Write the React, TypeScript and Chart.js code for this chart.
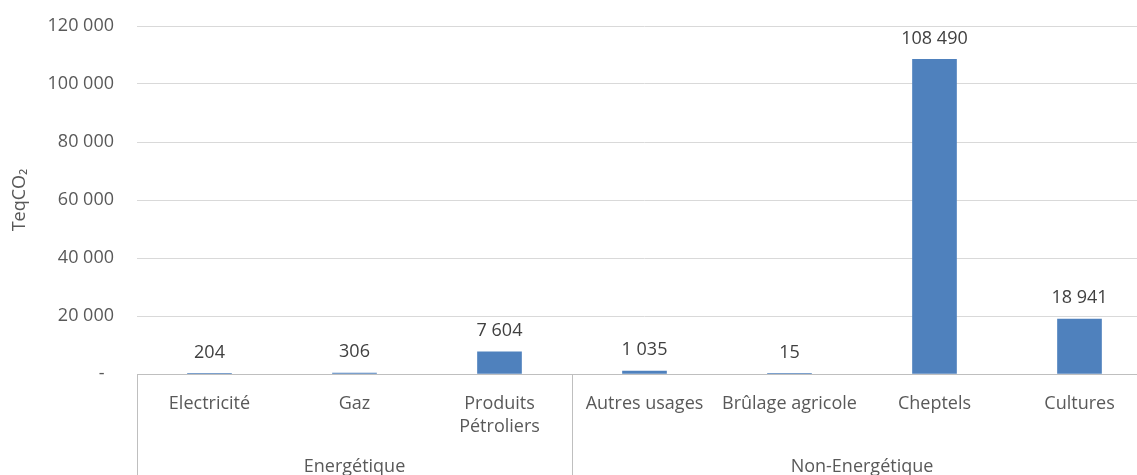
import React, { useEffect, useRef } from "react";
import { Chart, registerables } from "chart.js";

Chart.register(...registerables);

const categories: (string | string[])[] = [
  "Electricité",
  "Gaz",
  ["Produits", "Pétroliers"],
  "Autres usages",
  "Brûlage agricole",
  "Cheptels",
  "Cultures",
];
const values = [204, 306, 7604, 1035, 15, 108490, 18941];
const groupNames = ["Energétique", "Non-Energétique"];
const groupSizes = [3, 4];
const yTicks = [0, 20000, 40000, 60000, 80000, 100000, 120000];
const yTitle = "TeqCO₂";

const FONT = "'Open Sans', 'Noto Sans', sans-serif";
const FS = 18;
const TXT = "#595959";
const LINE = "#bfbfbf";

const fmt = (v: number) =>
  v === 0 ? "-" : String(v).replace(/\B(?=(\d{3})+(?!\d))/g, " ");

const labelsPlugin = {
  id: "labelsAndGroups",
  afterDatasetsDraw(chart: any) {
    const ctx = chart.ctx;
    const meta = chart.getDatasetMeta(0);
    ctx.save();
    ctx.font = `${FS}px ${FONT}`;
    ctx.fillStyle = "#404040";
    ctx.textAlign = "center";
    ctx.textBaseline = "middle";
    meta.data.forEach((bar: any, i: number) => {
      ctx.fillText(fmt(values[i]), bar.x, bar.y - 21);
    });
    ctx.restore();
  },
  afterDraw(chart: any) {
    const ctx = chart.ctx;
    const xs = chart.scales.x;
    const area = chart.chartArea;
    const half = (xs.getPixelForValue(1) - xs.getPixelForValue(0)) / 2;
    ctx.save();
    ctx.strokeStyle = LINE;
    ctx.lineWidth = 1;
    ctx.font = `${FS}px ${FONT}`;
    ctx.fillStyle = TXT;
    ctx.textAlign = "center";
    ctx.textBaseline = "middle";
    let start = 0;
    groupNames.forEach((name, gi) => {
      const end = start + groupSizes[gi] - 1;
      const left = xs.getPixelForValue(start) - half;
      const right = xs.getPixelForValue(end) + half;
      [left, right].forEach((px) => {
        const x = Math.round(px) + 0.5;
        ctx.beginPath();
        ctx.moveTo(x, area.bottom);
        ctx.lineTo(x, chart.height);
        ctx.stroke();
      });
      ctx.fillText(name, (left + right) / 2, area.bottom + 93);
      start = end + 1;
    });
    ctx.restore();
  },
};

export default function App() {
  const ref = useRef<HTMLCanvasElement>(null);
  useEffect(() => {
    document.body.style.overflow = "hidden";
    const chart = new Chart(ref.current!, {
      type: "bar",
      data: {
        labels: categories as any,
        datasets: [
          {
            data: values,
            backgroundColor: "#4f81bd",
            barThickness: 44,
          },
        ],
      },
      options: {
        animation: false,
        responsive: true,
        maintainAspectRatio: false,
        layout: { padding: { top: 26, right: 0, left: 0, bottom: 0 } },
        plugins: {
          legend: { display: false },
          tooltip: { enabled: false },
        },
        scales: {
          x: {
            grid: { display: false, drawTicks: false },
            border: { display: true, color: LINE },
            ticks: {
              color: TXT,
              font: { family: FONT, size: FS, lineHeight: 1.3 },
              padding: 18,
              maxRotation: 0,
              autoSkip: false,
            },
            afterFit: (s: any) => {
              s.height = 101;
              s.paddingLeft = 0;
              s.paddingRight = 0;
              s.paddingTop = 0;
              s.paddingBottom = 0;
            },
          },
          y: {
            min: 0,
            max: 120000,
            afterBuildTicks: (s: any) => {
              s.ticks = yTicks.map((v) => ({ value: v }));
            },
            grid: {
              drawTicks: false,
              color: (c: any) => (c.tick && c.tick.value === 0 ? LINE : "#d9d9d9"),
            },
            border: { display: false },
            ticks: {
              color: TXT,
              font: { family: FONT, size: FS },
              padding: 23,
              callback: (v: any) => (Number(v) === 0 ? "-\u00a0\u00a0" : fmt(Number(v))),
            },
            title: {
              display: true,
              text: yTitle,
              color: TXT,
              font: { family: FONT, size: FS },
              padding: { top: 9, bottom: 0 },
            },
            afterFit: (s: any) => {
              s.width = 137;
              s.paddingTop = 0;
              s.paddingBottom = 0;
              s.paddingLeft = 0;
              s.paddingRight = 0;
            },
          },
        },
      },
      plugins: [labelsPlugin],
    });
    return () => chart.destroy();
  }, []);
  return (
    <div style={{ position: "fixed", left: 0, top: 0, width: 1152, height: 475, background: "#fff" }}>
      <canvas ref={ref} />
    </div>
  );
}
